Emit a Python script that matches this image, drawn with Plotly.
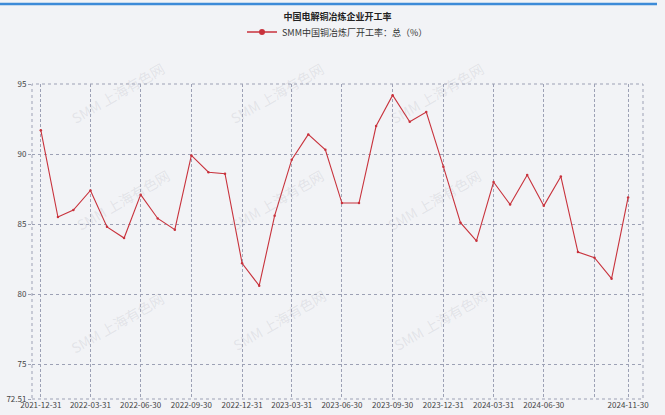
import pandas as pd
import plotly.graph_objects as go

# monthly utilisation rate, 2021-12 .. 2024-11
months = pd.date_range("2021-12-31", periods=36, freq="ME")
rate = [91.7, 85.5, 86.0, 87.4, 84.8, 84.0, 87.1, 85.4, 84.6, 89.9, 88.7, 88.6,
        82.2, 80.6, 85.6, 89.6, 91.4, 90.3, 86.5, 86.5, 92.0, 94.2, 92.3, 93.0,
        89.1, 85.1, 83.8, 88.0, 86.4, 88.5, 86.3, 88.4, 83.0, 82.6, 81.1, 86.9]

x_ticks = ["2021-12-31", "2022-03-31", "2022-06-30", "2022-09-30", "2022-12-31",
           "2023-03-31", "2023-06-30", "2023-09-30", "2023-12-31", "2024-03-31",
           "2024-06-30", "2024-09-30", "2024-11-30"]
x_labels = [t if t != "2024-09-30" else "" for t in x_ticks]
y_ticks = [72.51, 75, 80, 85, 90, 95]

TITLE = "中国电解铜冶炼企业开工率"
SERIES = "SMM中国铜冶炼厂开工率：总（%）"
RED = "#c8323c"
BG = "#f2f3f6"
GRID = "#9da1b5"
FONT = "Noto Sans CJK SC"

fig = go.Figure()
fig.add_trace(go.Scatter(
    x=months, y=rate, mode="lines+markers",
    line=dict(color=RED, width=1.1),
    marker=dict(color=RED, size=2.5),
    showlegend=False,
))
# legend entry only (bigger marker like the original)
fig.add_trace(go.Scatter(
    x=[None], y=[None], mode="lines+markers",
    line=dict(color=RED, width=1.5),
    marker=dict(color=RED, size=6),
    name=SERIES,
))

# plot area in pixels: left 32, right 643, top 84, bottom 399
def px(xp):
    return (xp - 32) / 611

def py(yp):
    return (399 - yp) / 315

# watermark grid
marks = []
for cx, cy in [(65, 56), (277, 56), (490, 56),
               (70, 200), (277, 200), (487, 200),
               (64, 360), (279, 357), (493, 357)]:
    marks.append(dict(
        x=px(cx), y=py(cy), xref="paper", yref="paper",
        text="SMM 上海有色网", showarrow=False, textangle=-30,
        font=dict(family=FONT, size=14, color="rgba(150,150,165,0.18)"),
    ))

fig.update_layout(
    width=665, height=415,
    margin=dict(l=32, r=22, t=84, b=16),
    paper_bgcolor=BG, plot_bgcolor=BG,
    font=dict(family=FONT, size=8, color="#444"),
    title=dict(text=f"<b>{TITLE}</b>", x=px(337.5), xref="paper", xanchor="center",
               y=1 - 17 / 415, yanchor="middle",
               font=dict(family=FONT, size=9, color="#222")),
    legend=dict(orientation="h", x=0.5, xanchor="center", y=py(32), yanchor="middle",
                bgcolor="rgba(0,0,0,0)", font=dict(family=FONT, size=9, color="#333"),
                itemwidth=30),
    annotations=marks,
    shapes=[
        # top blue bar
        dict(type="line", xref="paper", yref="paper", x0=px(0), x1=px(657),
             y0=py(4), y1=py(4), line=dict(color="#3d8bd8", width=2.5)),
        # dotted plot frame
        dict(type="rect", xref="paper", yref="paper", x0=0, x1=1, y0=0, y1=1,
             line=dict(color=GRID, width=1, dash="dot"), layer="below"),
    ],
    showlegend=True,
)

fig.update_xaxes(
    type="date", range=["2021-12-15", "2024-12-27"],
    tickvals=x_ticks, ticktext=x_labels,
    showgrid=True, gridcolor=GRID, griddash="3px,2px", gridwidth=0.8,
    showline=False, zeroline=False, ticks="", automargin=False,
    tickfont=dict(family=FONT, size=8, color="#444"),
)
fig.update_yaxes(
    range=[72.51, 95],
    tickvals=y_ticks, ticktext=[str(v) for v in y_ticks],
    showgrid=True, gridcolor=GRID, griddash="dot", gridwidth=1,
    showline=False, zeroline=False, ticks="outside", ticklen=3, tickcolor=GRID,
    automargin=False,
    tickfont=dict(family=FONT, size=8, color="#444"),
)

fig.write_html("out.html", config={"displayModeBar": False},
               post_script="document.body.style.margin='0';")
